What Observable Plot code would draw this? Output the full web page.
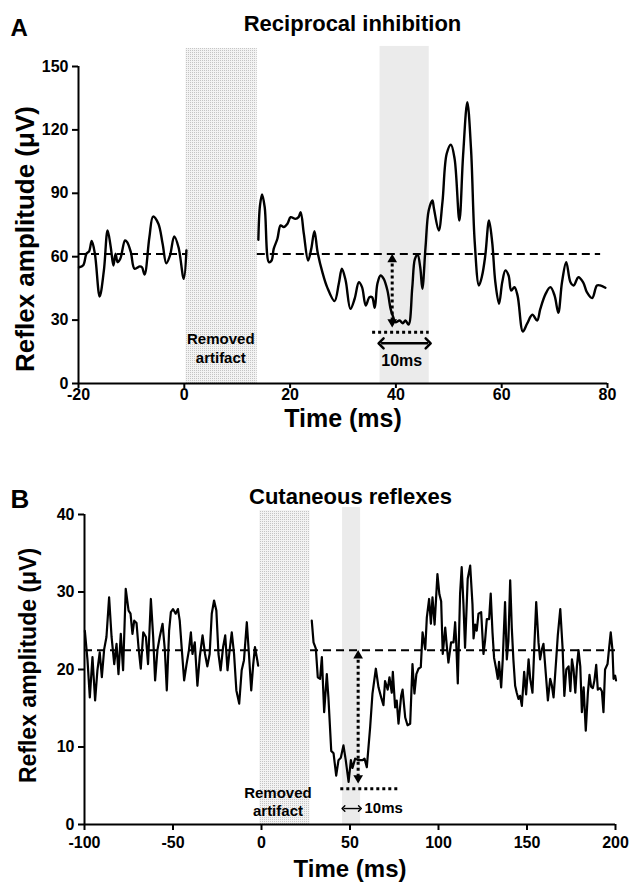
<!DOCTYPE html>
<html><head><meta charset="utf-8">
<script src="https://cdn.jsdelivr.net/npm/d3@7"></script>
<script src="https://cdn.jsdelivr.net/npm/@observablehq/plot@0.6"></script>
<style>
body{margin:0;background:#fff;}
#wrap{position:relative;width:632px;height:889px;overflow:hidden;}
#wrap svg{position:absolute;left:0;}
</style></head><body><div id="wrap"></div>
<script>
// ---------- Panel A: Reciprocal inhibition ----------
const titleA = "Reciprocal inhibition";
const xTicksA = [-20, 0, 20, 40, 60, 80];
const yTicksA = [0, 30, 60, 90, 120, 150];
const baselineA = 61.3;
const artifactA = [0.3, 13.8];
const windowA = [37.0, 46.3];
const traceA_pre = [[-19.9,55],[-19.1,56],[-18.5,61.4],[-18.0,62.5],[-17.5,67.4],[-16.9,61.4],[-16.0,41.2],[-15.2,53.5],[-14.5,72.4],[-13.9,64.5],[-13.4,55.8],[-13.0,61.4],[-12.6,57.4],[-12.1,59],[-11.2,67.7],[-10.8,66.9],[-10.1,62.1],[-9.4,54.3],[-8.4,55.4],[-8.0,55],[-7.5,51.6],[-6.6,69.2],[-5.9,79],[-4.9,75.6],[-4.1,66.1],[-3.4,56.9],[-2.7,60.6],[-1.9,69.6],[-1.1,64.5],[-0.1,49.5],[0.4,63]];
const traceA_post = [[14.0,68],[14.3,84],[14.7,89.4],[15.2,83.4],[16.0,57.4],[16.5,58.2],[16.9,63.7],[17.6,68.5],[18.2,74.8],[18.8,74],[19.5,75.6],[20.1,78.7],[21.0,77.9],[21.6,78.7],[22.0,81.1],[22.6,70.8],[23.4,58.2],[24.0,63.7],[24.6,72.1],[25.2,62.1],[26.1,52.7],[27.0,45.6],[28.4,39],[29.2,47.2],[29.8,54.3],[30.5,48.7],[31.4,35.3],[32.2,40.1],[33.0,47.9],[33.6,45.6],[34.3,36.9],[35.0,40.8],[35.5,40.8],[36.0,35.8],[36.5,47.2],[37.1,51.1],[37.7,49.5],[38.4,44],[39.0,35.3],[39.5,31.4],[39.9,29],[40.7,29.8],[41.3,28.5],[41.8,29.8],[42.4,27.9],[43.1,45.6],[43.6,59],[44.1,61],[44.6,55],[45.0,44.8],[45.6,64.5],[46.2,81.9],[46.9,86.6],[47.2,82.7],[48.1,72.4],[48.8,85.8],[49.6,108.7],[50.4,113],[51.1,106.3],[52.0,77.1],[52.7,107.9],[53.5,133.1],[54.2,111],[54.9,66.9],[55.7,46.4],[56.3,51.1],[56.9,60.6],[57.6,77.1],[58.2,66.9],[58.8,47.9],[59.5,37.7],[60.1,47.9],[60.7,53.5],[61.3,51.1],[61.8,44],[62.4,45.6],[63.0,41.6],[64.0,24.6],[64.8,28.3],[65.8,32.5],[66.7,29.8],[67.3,35.3],[68.3,42.4],[69.2,45.6],[70.0,41.6],[70.7,33.5],[71.4,47.9],[72.2,57.4],[73.0,47.9],[73.6,46.4],[74.5,50.3],[75.4,47.9],[76.1,43.2],[77.1,40.4],[78.0,46.4],[78.6,46.4],[79.6,45.3]];
const dashedA = [[-20, 0.5], [13.8, 78.7]];
const inhibArrowA = {x: 39.3, top: 61.3, bottom: 26.5};
const minLineA = {y: 24.3, x1: 35.6, x2: 46.3};
const spanArrowA = {y: 19, x1: 37.2, x2: 46.1, label: "10ms", labelX: 41.1, labelY: 8.5};
const artifactLabelA = {x: 6.9, y: 9.9, text: "Removed\nartifact"};

// ---------- Panel B: Cutaneous reflexes ----------
const titleB = "Cutaneous reflexes";
const xTicksB = [-100, -50, 0, 50, 100, 150, 200];
const yTicksB = [0, 10, 20, 30, 40];
const baselineB = 22.5;
const artifactB = [-1, 27.5];
const windowB = [45.8, 56];
const traceB_pre = [[-99.8,25.0],[-98.3,21.2],[-97.0,16.4],[-95.5,21.6],[-94.0,16],[-92.7,19.9],[-91.4,22.2],[-90.2,19],[-88.9,22.6],[-87.6,24.2],[-86.1,29.3],[-84.7,24.2],[-83.2,20.7],[-81.9,23.3],[-80.8,19.4],[-79.5,24.6],[-78.2,19.9],[-76.7,30.4],[-75.1,27.6],[-74.0,27.2],[-72.9,24.6],[-71.9,26.3],[-70.6,26],[-69.5,22.9],[-68.2,20.1],[-66.8,24.8],[-65.3,24.2],[-64.1,20.7],[-62.5,29.1],[-61.2,24.2],[-60.1,18.6],[-58.8,22.5],[-57.5,24.2],[-55.9,25.9],[-54.6,22.5],[-53.5,17.3],[-52.2,25.0],[-51.2,27.4],[-50.0,27.8],[-48.5,27.2],[-47.2,27.8],[-46.2,26.3],[-45.0,22.5],[-43.7,18.6],[-42.4,20.6],[-41.0,22.5],[-39.9,24.8],[-39.0,22],[-37.7,23.5],[-36.2,17.9],[-34.9,21.6],[-33.3,24.4],[-31.9,22.0],[-30.6,20.4],[-29.3,22],[-28.1,27.2],[-26.8,28.9],[-25.5,27.6],[-24.3,22],[-23.1,19.9],[-21.7,22.9],[-20.5,24.4],[-19.2,19.9],[-18.0,22.5],[-16.8,24.8],[-15.5,22],[-14.2,17.3],[-12.6,15.6],[-11.2,19.9],[-9.9,21.2],[-8.3,26.1],[-7.1,22],[-5.8,17.3],[-4.7,20.6],[-3.7,22.9],[-2.3,21.1],[-1.9,20.5]];
const traceB_post = [[28.4,26.3],[29.4,23.5],[30.7,22.7],[31.8,19.0],[33.1,18.8],[34.1,21.6],[35.4,14.5],[36.9,19.4],[37.8,16.4],[39.4,9.5],[40.7,9.2],[42.2,6.3],[43.5,8.3],[44.8,8.6],[46.3,10.2],[47.6,8.3],[49.2,5.5],[50.5,8.3],[51.4,7.3],[52.9,8.5],[54.8,8.3],[57.1,8.3],[58.2,8.5],[59.5,7.4],[61.4,12.6],[62.7,16.9],[64.6,20.1],[66.1,17.7],[67.6,16.4],[68.9,15.4],[69.8,18.5],[71.3,17.4],[72.3,19],[73.6,17],[74.2,19.7],[75.5,15.1],[76.4,16.0],[77.4,13.0],[78.9,16.6],[79.7,17.4],[81.2,13.8],[82.5,12.8],[84.0,13],[85.3,20.7],[86.4,16.9],[87.5,19.4],[88.7,20.1],[90.0,20.3],[91.0,24.8],[92.5,22.6],[93.4,26.7],[94.7,29.1],[95.7,25.9],[96.6,29.3],[97.8,25.8],[99.4,32.3],[100.5,29.7],[101.5,28.8],[102.4,22.0],[103.8,25.4],[104.7,23.0],[105.6,20.9],[107.1,23.5],[108.5,23.5],[109.4,26.1],[110.0,23.5],[110.9,18.2],[112.2,29.8],[113.1,33.2],[114.1,28.4],[115.0,22.8],[116.5,31.7],[117.9,33.4],[119.2,28.4],[119.8,24.0],[120.7,25.8],[121.6,25],[122.6,27.2],[124.1,27.4],[125.4,22.0],[126.3,23.7],[127.3,26.5],[128.6,26.5],[129.5,29.8],[130.5,24.8],[131.4,21.5],[132.4,20.3],[133.5,18.8],[134.2,21],[135.4,17.7],[136.3,21.3],[137.6,28.7],[138.6,21.3],[139.5,23.7],[140.5,31.5],[141.4,25.4],[142.3,21.3],[143.3,17.9],[144.2,17],[145.2,16.2],[146.1,16.6],[147.1,15.3],[148.4,19.7],[149.5,16.8],[150.9,21.3],[151.8,18.8],[153.1,17],[154.2,23.3],[155.2,28.7],[156.5,23.5],[157.4,21.3],[158.4,22.6],[159.3,23.3],[160.2,20.7],[161.8,16.0],[163.1,18.8],[164.0,18],[165.0,16.4],[166.5,21.3],[167.4,24.4],[168.8,27.8],[170.1,22.8],[171.1,16.6],[172.2,20],[173.5,20.4],[174.5,17.2],[175.4,21.3],[176.3,20],[177.3,17],[178.2,20.4],[179.1,22.5],[180.1,20.4],[181.0,14.5],[182.0,17.7],[183.2,12.1],[184.4,17],[185.3,19.3],[186.2,17.8],[187.2,17.6],[188.1,18.6],[189.1,20.6],[190.0,17.4],[191.3,17.6],[192.3,17.2],[193.2,14.5],[194.1,20],[195.5,20.7],[196.4,22.8],[197.3,24.8],[198.3,22.5],[198.9,18.8],[199.8,19.2],[200.3,18.6]];
const dashedB = [[-100, -1.9], [27.7, 200]];
const inhibArrowB = {x: 54.6, top: 22.5, bottom: 5.3};
const minLineB = {y: 4.6, x1: 44.8, x2: 77};
const spanArrowB = {y: 2.06, x1: 46.3, x2: 55.6, label: "10ms", labelX: 58.2, labelY: 1.42};
const artifactLabelB = {x: 9.3, y: 1.16, text: "Removed\nartifact"};

const FONT = "'Liberation Sans', Arial, Helvetica, sans-serif";

function addPattern(svg, id) {
  const ns = "http://www.w3.org/2000/svg";
  const defs = document.createElementNS(ns, "defs");
  const pat = document.createElementNS(ns, "pattern");
  pat.setAttribute("id", id);
  pat.setAttribute("patternUnits", "userSpaceOnUse");
  pat.setAttribute("width", 2); pat.setAttribute("height", 2);
  const bg = document.createElementNS(ns, "rect");
  bg.setAttribute("width", 2); bg.setAttribute("height", 2); bg.setAttribute("fill", "#f3f3f3");
  const dot = document.createElementNS(ns, "rect");
  dot.setAttribute("width", 1); dot.setAttribute("height", 1); dot.setAttribute("fill", "#c4c4c4");
  pat.appendChild(bg); pat.appendChild(dot); defs.appendChild(pat);
  svg.insertBefore(defs, svg.firstChild);
}

function toPts(arr) { return arr.map(([x, y]) => ({x, y})); }
const fmt = (d) => String(d);

function panel(cfg) {
  const svg = Plot.plot({
    width: 632, height: cfg.height,
    marginTop: cfg.mt, marginBottom: cfg.mb, marginLeft: cfg.ml, marginRight: cfg.mr,
    style: {fontFamily: FONT, fontWeight: "bold", fontSize: "15px", color: "black", background: "white", overflow: "visible"},
    x: {domain: cfg.xDomain},
    y: {domain: cfg.yDomain},
    marks: [
      Plot.rect([{x1: cfg.artifact[0], x2: cfg.artifact[1], top: cfg.artifactTop}], {x1: "x1", x2: "x2", y1: 0, y2: "top", fill: `url(#${cfg.pid})`}),
      Plot.rect([{x1: cfg.window[0], x2: cfg.window[1], top: cfg.windowTop}], {x1: "x1", x2: "x2", y1: 0, y2: "top", fill: "#ebebeb"}),
      Plot.ruleY(cfg.dashed.map(([a, b]) => ({a, b, y: cfg.baseline})), {x1: "a", x2: "b", y: "y", stroke: "black", strokeWidth: 2, strokeDasharray: "8,5"}),
      Plot.line(toPts(cfg.pre), {x: "x", y: "y", curve: cfg.curve, stroke: "black", strokeWidth: cfg.lw}),
      Plot.line(toPts(cfg.post), {x: "x", y: "y", curve: cfg.curve, stroke: "black", strokeWidth: cfg.lw}),
      // inhibition (dotted double arrow)
      Plot.ruleX([cfg.inhib], {x: "x", y1: "top", y2: "bottom", stroke: "black", strokeWidth: 3, strokeDasharray: "3,3", inset: 4}),
      Plot.dot([cfg.inhib], {x: "x", y: "top", symbol: "triangle", r: 3.6, fill: "black", stroke: null, dy: 5.5}),
      Plot.dot([cfg.inhib], {x: "x", y: "bottom", symbol: "triangle", r: 3.6, fill: "black", stroke: null, rotate: 180, dy: -5.5}),
      Plot.ruleY([cfg.minLine], {y: "y", x1: "x1", x2: "x2", stroke: "black", strokeWidth: 3, strokeDasharray: "3,3"}),
      // 10 ms span arrow
      Plot.link([cfg.span], {x1: "x1", x2: "x2", y1: "y", y2: "y", stroke: "black", strokeWidth: cfg.spanW, markerStart: "arrow-reverse", markerEnd: "arrow"}),
      Plot.text([cfg.span], {x: "labelX", y: "labelY", text: "label", textAnchor: cfg.spanAnchor, lineAnchor: "bottom", fontSize: cfg.spanFont, fontWeight: "bold"}),
      Plot.text([cfg.artLabel], {x: "x", y: "y", text: "text", textAnchor: "middle", lineAnchor: "bottom", lineHeight: cfg.artLH, fontSize: 15, fontWeight: "bold"}),
      // axes
      Plot.ruleX([cfg.xDomain[0]], {stroke: "black", strokeWidth: 2}),
      Plot.ruleY([cfg.yDomain[0]], {stroke: "black", strokeWidth: 2}),
      Plot.axisY({ticks: cfg.yTicks, tickFormat: fmt, tickSize: 6, tickPadding: 4, strokeWidth: 2, label: null, fontSize: cfg.tickFont}),
      Plot.axisX({ticks: cfg.xTicks, tickFormat: fmt, tickSize: cfg.xTick, tickPadding: cfg.xPad, strokeWidth: 2, label: null, fontSize: cfg.tickFont}),
      // titles and axis labels
      Plot.text([cfg.letter], {frameAnchor: "top-left", dx: cfg.letterDx, dy: cfg.letterDy, textAnchor: "start", lineAnchor: "bottom", fontSize: cfg.letterFont, fontWeight: "bold"}),
      Plot.text([cfg.title], {frameAnchor: "top-left", dx: cfg.titleDx, dy: cfg.titleDy, textAnchor: "middle", lineAnchor: "bottom", fontSize: cfg.titleFont, fontWeight: "bold"}),
      Plot.text(["Reflex amplitude (μV)"], {frameAnchor: "left", rotate: -90, dx: cfg.ylDx, dy: cfg.ylDy, textAnchor: "middle", lineAnchor: "middle", fontSize: cfg.ylFont, fontWeight: "bold"}),
      Plot.text(["Time (ms)"], {frameAnchor: "bottom", dy: cfg.xlDy, textAnchor: "middle", lineAnchor: "bottom", fontSize: cfg.xlFont, fontWeight: "bold"})
    ]
  });
  addPattern(svg, cfg.pid);
  svg.style.top = cfg.top + "px";
  return svg;
}

const wrap = document.getElementById("wrap");
wrap.appendChild(panel({
  top: 0, height: 445, mt: 66, mb: 62, ml: 78, mr: 25,
  xDomain: [-20, 80], yDomain: [0, 150], xTicks: xTicksA, yTicks: yTicksA,
  artifact: artifactA, artifactTop: 158.5, window: windowA, windowTop: 159.5, pid: "dotsA",
  dashed: dashedA, baseline: baselineA, pre: traceA_pre, post: traceA_post, curve: "catmull-rom", lw: 2.4,
  inhib: inhibArrowA, minLine: minLineA, span: spanArrowA, spanW: 2.5, spanAnchor: "middle", spanFont: 16,
  artLabel: artifactLabelA, artLH: 1.27, tickFont: 16, xTick: 5, xPad: 0,
  letter: "A", letterDx: -68, letterDy: -31, letterFont: 24,
  title: titleA, titleDx: 274, titleDy: -36, titleFont: 22,
  ylDx: -53, ylDy: 14, ylFont: 26, xlDy: 43, xlFont: 25
}));
wrap.appendChild(panel({
  top: 445, height: 444, mt: 69, mb: 65, ml: 84, mr: 17,
  xDomain: [-100, 200], yDomain: [0, 40], xTicks: xTicksB, yTicks: yTicksB,
  artifact: artifactB, artifactTop: 40.5, window: windowB, windowTop: 40.9, pid: "dotsB",
  dashed: dashedB, baseline: baselineB, pre: traceB_pre, post: traceB_post, curve: "linear", lw: 2.2,
  inhib: inhibArrowB, minLine: minLineB, span: spanArrowB, spanW: 1.4, spanAnchor: "start", spanFont: 15,
  artLabel: artifactLabelB, artLH: 1.2, tickFont: 16, xTick: 6, xPad: 6,
  letter: "B", letterDx: -74, letterDy: -7, letterFont: 26,
  title: titleB, titleDx: 266, titleDy: -11, titleFont: 22,
  ylDx: -56, ylDy: -4, ylFont: 23, xlDy: 52, xlFont: 24
}));
</script></body></html>
